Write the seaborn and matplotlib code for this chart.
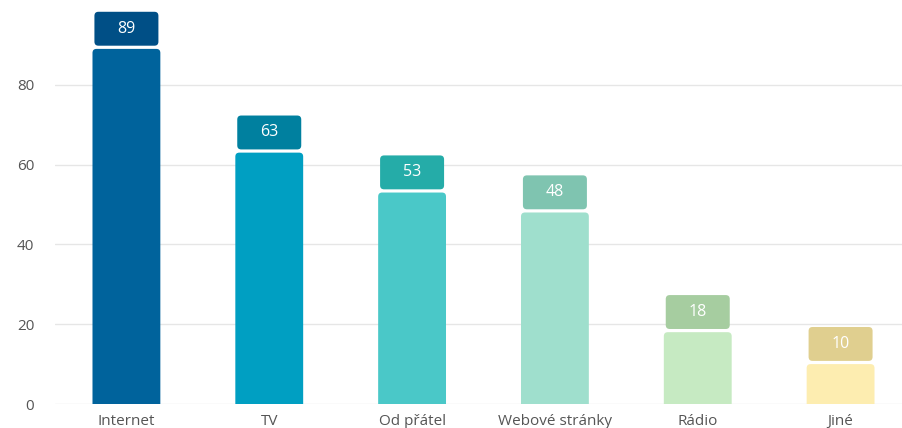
import matplotlib
matplotlib.use("Agg")
import matplotlib.pyplot as plt
from matplotlib.patches import FancyBboxPatch
import seaborn as sns
import pandas as pd

# Data
categories = ["Internet", "TV", "Od přátel", "Webové stránky", "Rádio", "Jiné"]
values = [89, 63, 53, 48, 18, 10]
bar_colors = ["#00639C", "#009FC2", "#4AC8C8", "#9FDFCD", "#C6EAC2", "#FDEDB0"]
label_colors = ["#004F86", "#00809F", "#25ACA8", "#7FC4B0", "#A6CDA0", "#E0CF8F"]
yticks = [0, 20, 40, 60, 80]

sns.set_theme(style="white")
plt.rcParams["font.family"] = ["Open Sans", "DejaVu Sans"]

df = pd.DataFrame({"kategorie": categories, "hodnota": values})

W, H, DPI = 902, 428, 100
fig = plt.figure(figsize=(W / DPI, H / DPI), dpi=DPI)
# axes placed in pixel terms: left 55, right 902, bottom 24 (y=404), top 5
ax = fig.add_axes([55 / W, 24 / H, (W - 55) / W, (404 - 5) / H])

sns.barplot(data=df, x="kategorie", y="hodnota", hue="kategorie",
            palette=bar_colors, legend=False, width=0.475, ax=ax,
            saturation=1, linewidth=0)

ax.set_xlim(-0.5, 5.43)
ax.set_ylim(0, 100)

# pixel-to-data scale factors for corner rounding
px_x = 143.0
px_y = 3.99
radius_x = 4 / px_x
aspect = px_x / px_y

# replace plain rectangles with rounded ones
bars = list(ax.patches)
for bar, col in zip(bars, bar_colors):
    x0 = bar.get_x()
    w = bar.get_width()
    h = bar.get_height()
    bar.set_visible(False)
    rb = FancyBboxPatch((x0, -3), w, h + 3,
                        boxstyle=f"round,pad=0,rounding_size={radius_x}",
                        mutation_aspect=aspect, facecolor=col, edgecolor="none",
                        zorder=2, clip_on=True)
    ax.add_patch(rb)

# value badges above each bar
for i, (v, lc) in enumerate(zip(values, label_colors)):
    bw = 0.448
    y0 = v + 0.8
    bh = 8.5
    badge = FancyBboxPatch((i - bw / 2, y0), bw, bh,
                           boxstyle=f"round,pad=0,rounding_size={radius_x}",
                           mutation_aspect=aspect, facecolor=lc,
                           edgecolor="none", zorder=3, clip_on=False)
    ax.add_patch(badge)
    ax.text(i, y0 + bh / 2, str(v), ha="center", va="center",
            color="white", fontsize=11.5, zorder=4)

ax.set_yticks(yticks)
ax.set_yticklabels([str(t) for t in yticks])
ax.yaxis.grid(True, color="#E6E6E6", linewidth=1)
ax.set_axisbelow(True)
for s in ax.spines.values():
    s.set_visible(False)
ax.tick_params(axis="both", length=0, colors="#555555", labelsize=11)
ax.tick_params(axis="y", pad=15)
ax.tick_params(axis="x", pad=7)
ax.set_xlabel("")
ax.set_ylabel("")

fig.savefig("out.png", dpi=DPI, facecolor="white")
